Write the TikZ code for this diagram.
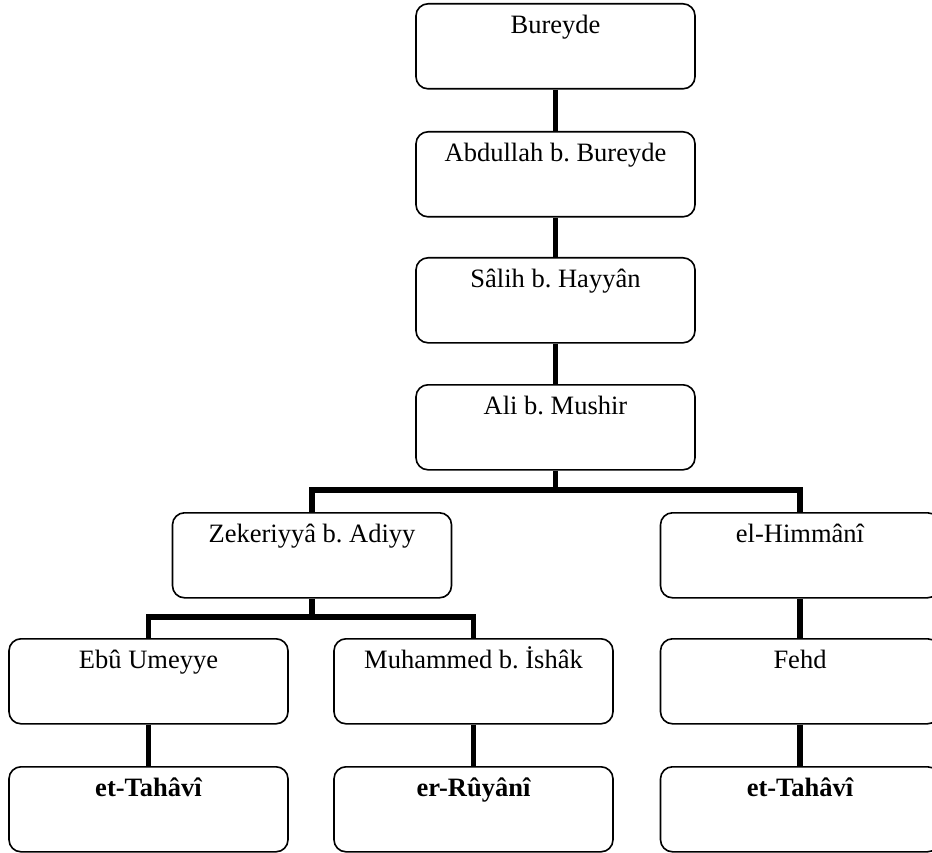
\documentclass[tikz,border=0pt]{standalone}
\usepackage{fontspec}
\setmainfont{Liberation Serif}
\frenchspacing
\begin{document}
\begin{tikzpicture}[x=1pt,y=-1pt,
  person/.style={draw, line width=1.6pt, rounded corners=12pt,
    minimum width=279pt, inner xsep=0pt, inner ysep=0pt,
    text height=30pt, text depth=55pt, anchor=north,
    font=\fontsize{26.5}{30}\selectfont},
  compiler/.style={person, font=\fontsize{26.5}{30}\selectfont\bfseries},
  link/.style={line width=5.5pt}]
\clip (0,0) rectangle (932,853);
\fill[white] (0,0) rectangle (932,853);
% chain of narrators
\node[person] (bureyde) at (555.5,3) {Bureyde};
\node[person] (abdullah) at (555.5,131) {Abdullah b. Bureyde};
\node[person] (salih) at (555.5,257) {Sâlih b. Hayyân};
\node[person] (ali) at (555.5,384) {Ali b. Mushir};
% second level
\node[person] (zekeriyya) at (312,512) {Zekeriyyâ b. Adiyy};
\node[person] (himmani) at (800,512) {el-Himmânî};
% third level
\node[person] (ebu) at (148.5,638) {Ebû Umeyye};
\node[person] (muhammed) at (473.5,638) {Muhammed b. İshâk};
\node[person] (fehd) at (800,638) {Fehd};
% compilers
\node[compiler] (tahavi1) at (148.5,766) {et-Tahâvî};
\node[compiler] (ruyani) at (473.5,766) {er-Rûyânî};
\node[compiler] (tahavi2) at (800,766) {et-Tahâvî};
% connectors
\draw[link] (bureyde.south) -- (abdullah.north);
\draw[link] (abdullah.south) -- (salih.north);
\draw[link] (salih.south) -- (ali.north);
\coordinate (aj) at (555.5,490);
\draw[link] (ali.south) -- (aj);
\draw[link] (zekeriyya.north) |- (aj) -| (himmani.north);
\coordinate (zj) at (312,617);
\draw[link] (zekeriyya.south) -- (zj);
\draw[link] (ebu.north) |- (zj) -| (muhammed.north);
\draw[link] (himmani.south) -- (fehd.north);
\draw[link] (ebu.south) -- (tahavi1.north);
\draw[link] (muhammed.south) -- (ruyani.north);
\draw[link] (fehd.south) -- (tahavi2.north);
\end{tikzpicture}
\end{document}
